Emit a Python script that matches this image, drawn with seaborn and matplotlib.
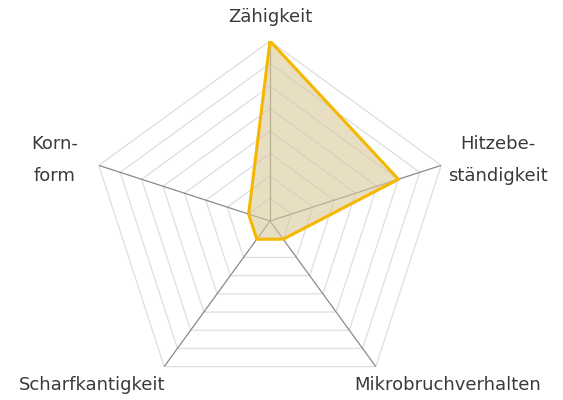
import numpy as np
import matplotlib
matplotlib.use("Agg")
import matplotlib.pyplot as plt
import seaborn as sns

categories = ["Zähigkeit", "Hitzebe-\nständigkeit", "Mikrobruchverhalten", "Scharfkantigkeit", "Korn-\nform"]
values = [8, 6, 1, 1, 1]
max_level = 8

sns.set_style("white")
plt.rcParams["font.family"] = ["DejaVu Sans"]

n = len(categories)
angles = np.linspace(0, 2 * np.pi, n, endpoint=False)
closed_angles = np.append(angles, angles[0])
closed_values = np.append(values, values[0])

fig = plt.figure(figsize=(5.63, 4.0), dpi=100)
ax = fig.add_axes([90 / 563, -1 / 400, 360 / 563, 360 / 400], projection="polar")
ax.set_theta_zero_location("N")
ax.set_theta_direction(-1)
ax.set_ylim(0, max_level)
ax.grid(False)
ax.spines["polar"].set_visible(False)
ax.set_xticks([])
ax.set_yticks([])
ax.patch.set_alpha(0)

# polygon grid
for level in range(1, max_level + 1):
    ax.plot(closed_angles, [level] * (n + 1), color="#dedede", lw=0.9, zorder=1)
# spokes
for a in angles:
    ax.plot([a, a], [0, max_level], color="#8a8a8a", lw=0.9, zorder=2)

ax.fill(closed_angles, closed_values, color="#d9c89a", alpha=0.6, zorder=3)
ax.plot(closed_angles, closed_values, color="#f5b700", lw=2.2, zorder=4)

# label positions (angle in degrees, radius in grid units)
label_pos = [(0, 9.07), (75.0, 10.5), (132.7, 10.76), (227.3, 10.76), (285.8, 9.95)]
for cat, (deg, r) in zip(categories, label_pos):
    ax.text(np.deg2rad(deg), r, cat, ha="center", va="center", fontsize=13,
            color="#3a3a3a", linespacing=1.95, clip_on=False)

fig.savefig("out.png", dpi=100)
